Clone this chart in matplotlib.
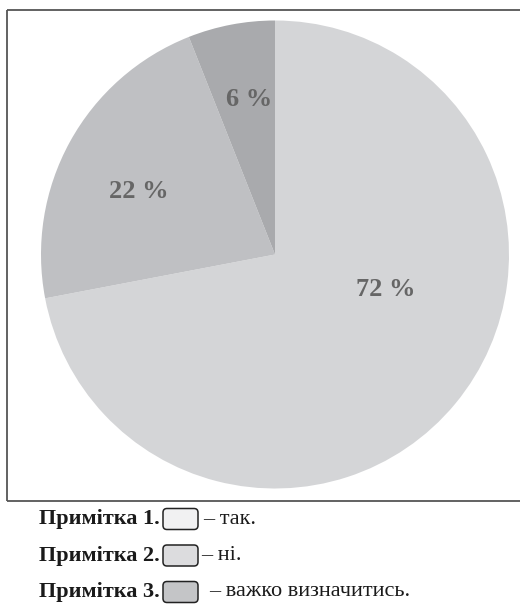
import matplotlib
matplotlib.use("Agg")
import matplotlib.pyplot as plt
from matplotlib.patches import FancyBboxPatch

# Survey answers (percent)
answers = ["так", "ні", "важко визначитись"]
shares = [72, 22, 6]
pie_colors = ["#d4d5d7", "#bfc0c3", "#a9aaad"]
legend_colors = ["#f1f1f2", "#dcdcde", "#c4c5c7"]
note_titles = ["Примітка 1.", "Примітка 2.", "Примітка 3."]
note_texts = ["– так.", "– ні.", "– важко визначитись."]

W, H = 520, 606
fig = plt.figure(figsize=(W / 100, H / 100), dpi=100)

# pie in its own axes so the angles keep the usual orientation
cx, cy, r = 275, 254.5, 234
pax = fig.add_axes([(cx - r) / W, 1 - (cy + r) / H, 2 * r / W, 2 * r / H])
pax.pie(shares, colors=pie_colors, startangle=90, counterclock=False,
        radius=1, wedgeprops=dict(linewidth=0))
pax.set_xlim(-1, 1)
pax.set_ylim(-1, 1)
pax.set_aspect("equal")
pax.axis("off")

# overlay axes in pixel units for labels, frame and notes
ax = fig.add_axes([0, 0, 1, 1])
ax.set_xlim(0, W)
ax.set_ylim(H, 0)
ax.patch.set_alpha(0)
ax.axis("off")

# percentage labels
label_pos = [(385.5, 289), (139, 191), (249.5, 99)]
for v, (x, y) in zip(shares, label_pos):
    ax.text(x, y, f"{v} %", ha="center", va="center", fontsize=19,
            fontweight="bold", family="Liberation Serif", color="#666666")

# frame around the chart (open on the right)
frame_kw = dict(color="#555555", linewidth=1.3, solid_capstyle="butt")
ax.plot([7, 7], [9.5, 501], **frame_kw)
ax.plot([7, W], [9.5, 9.5], **frame_kw)
ax.plot([7, W], [501, 501], **frame_kw)

# notes with colour swatches
text_x = [203, 201, 209]
for i, (title, txt, col) in enumerate(zip(note_titles, note_texts, legend_colors)):
    y = 519 + i * 36.5
    ax.text(39, y, title, ha="left", va="center", fontsize=16,
            fontweight="bold", family="Liberation Serif", color="#1a1a1a")
    sw = FancyBboxPatch((163, y - 10.5), 35, 21,
                        boxstyle="round,pad=0,rounding_size=4",
                        facecolor=col, edgecolor="#222222", linewidth=1.1)
    ax.add_patch(sw)
    ax.text(text_x[i], y, txt, ha="left", va="center", fontsize=16,
            family="Liberation Serif", color="#1a1a1a")

fig.savefig("out.png", dpi=100)
